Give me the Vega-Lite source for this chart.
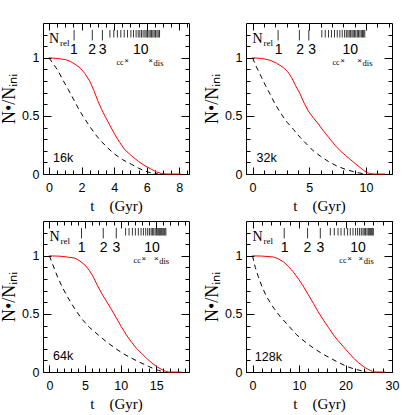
{
"$schema": "https://vega.github.io/schema/vega-lite/v6.json",
"padding": {"left": 0, "top": 22, "right": 4, "bottom": 4},
"background": "white",
"config": {
 "view": {"stroke": "black", "strokeWidth": 1},
 "axis": {"grid": false, "domain": false, "tickColor": "black", "tickWidth": 1, "labelColor": "black", "labelFont": "Liberation Sans", "labelFontSize": 12.5, "labelFlush": false, "labelOverlap": false, "titleFont": "Liberation Serif", "titleFontWeight": "normal", "titleColor": "black"},
 "text": {"color": "black"}
},
"datasets": {
 "curves": [
  {"p":"16k","s":"sim","t":0,"n":1},{"p":"16k","s":"sim","t":0.5,"n":0.995},{"p":"16k","s":"sim","t":1.0,"n":0.985},{"p":"16k","s":"sim","t":1.3,"n":0.97},{"p":"16k","s":"sim","t":1.6,"n":0.945},{"p":"16k","s":"sim","t":1.9,"n":0.915},{"p":"16k","s":"sim","t":2.2,"n":0.865},{"p":"16k","s":"sim","t":2.5,"n":0.8},{"p":"16k","s":"sim","t":2.75,"n":0.72},{"p":"16k","s":"sim","t":3.0,"n":0.63},{"p":"16k","s":"sim","t":3.2,"n":0.565},{"p":"16k","s":"sim","t":3.43,"n":0.5},{"p":"16k","s":"sim","t":3.7,"n":0.43},{"p":"16k","s":"sim","t":4.04,"n":0.34},{"p":"16k","s":"sim","t":4.35,"n":0.27},{"p":"16k","s":"sim","t":4.65,"n":0.21},{"p":"16k","s":"sim","t":5.0,"n":0.165},{"p":"16k","s":"sim","t":5.48,"n":0.11},{"p":"16k","s":"sim","t":5.9,"n":0.07},{"p":"16k","s":"sim","t":6.3,"n":0.04},{"p":"16k","s":"sim","t":6.6,"n":0.018},{"p":"16k","s":"sim","t":6.9,"n":0.005},{"p":"16k","s":"sim","t":7.2,"n":0},{"p":"16k","s":"sim","t":8.1,"n":0},
  {"p":"16k","s":"model","t":0,"n":1},{"p":"16k","s":"model","t":0.25,"n":0.95},{"p":"16k","s":"model","t":0.55,"n":0.89},{"p":"16k","s":"model","t":0.85,"n":0.81},{"p":"16k","s":"model","t":1.17,"n":0.73},{"p":"16k","s":"model","t":1.5,"n":0.645},{"p":"16k","s":"model","t":1.78,"n":0.57},{"p":"16k","s":"model","t":2.1,"n":0.495},{"p":"16k","s":"model","t":2.5,"n":0.41},{"p":"16k","s":"model","t":2.85,"n":0.34},{"p":"16k","s":"model","t":3.22,"n":0.28},{"p":"16k","s":"model","t":3.6,"n":0.225},{"p":"16k","s":"model","t":4.04,"n":0.17},{"p":"16k","s":"model","t":4.5,"n":0.125},{"p":"16k","s":"model","t":5.07,"n":0.083},{"p":"16k","s":"model","t":5.5,"n":0.05},{"p":"16k","s":"model","t":5.89,"n":0.026},{"p":"16k","s":"model","t":6.2,"n":0.012},{"p":"16k","s":"model","t":6.5,"n":0.004},{"p":"16k","s":"model","t":6.7,"n":0},
  {"p":"32k","s":"sim","t":0,"n":1},{"p":"32k","s":"sim","t":0.8,"n":0.995},{"p":"32k","s":"sim","t":1.53,"n":0.98},{"p":"32k","s":"sim","t":2.1,"n":0.955},{"p":"32k","s":"sim","t":2.71,"n":0.917},{"p":"32k","s":"sim","t":3.1,"n":0.88},{"p":"32k","s":"sim","t":3.45,"n":0.83},{"p":"32k","s":"sim","t":3.8,"n":0.76},{"p":"32k","s":"sim","t":4.19,"n":0.69},{"p":"32k","s":"sim","t":4.55,"n":0.61},{"p":"32k","s":"sim","t":4.93,"n":0.54},{"p":"32k","s":"sim","t":5.35,"n":0.485},{"p":"32k","s":"sim","t":5.81,"n":0.43},{"p":"32k","s":"sim","t":6.3,"n":0.365},{"p":"32k","s":"sim","t":6.84,"n":0.3},{"p":"32k","s":"sim","t":7.3,"n":0.245},{"p":"32k","s":"sim","t":7.73,"n":0.2},{"p":"32k","s":"sim","t":8.2,"n":0.16},{"p":"32k","s":"sim","t":8.61,"n":0.126},{"p":"32k","s":"sim","t":9.05,"n":0.09},{"p":"32k","s":"sim","t":9.5,"n":0.055},{"p":"32k","s":"sim","t":9.8,"n":0.03},{"p":"32k","s":"sim","t":10.1,"n":0.012},{"p":"32k","s":"sim","t":10.4,"n":0.003},{"p":"32k","s":"sim","t":10.7,"n":0},{"p":"32k","s":"sim","t":11.7,"n":0},
  {"p":"32k","s":"model","t":0,"n":1},{"p":"32k","s":"model","t":0.3,"n":0.93},{"p":"32k","s":"model","t":0.8,"n":0.83},{"p":"32k","s":"model","t":1.15,"n":0.76},{"p":"32k","s":"model","t":1.53,"n":0.69},{"p":"32k","s":"model","t":2.0,"n":0.6},{"p":"32k","s":"model","t":2.57,"n":0.51},{"p":"32k","s":"model","t":3.05,"n":0.445},{"p":"32k","s":"model","t":3.6,"n":0.385},{"p":"32k","s":"model","t":4.2,"n":0.315},{"p":"32k","s":"model","t":4.78,"n":0.256},{"p":"32k","s":"model","t":5.35,"n":0.2},{"p":"32k","s":"model","t":5.96,"n":0.155},{"p":"32k","s":"model","t":6.7,"n":0.107},{"p":"32k","s":"model","t":7.43,"n":0.069},{"p":"32k","s":"model","t":8.2,"n":0.04},{"p":"32k","s":"model","t":8.9,"n":0.02},{"p":"32k","s":"model","t":9.4,"n":0.009},{"p":"32k","s":"model","t":9.8,"n":0.003},{"p":"32k","s":"model","t":10.1,"n":0},
  {"p":"64k","s":"sim","t":0,"n":1},{"p":"64k","s":"sim","t":1.5,"n":0.997},{"p":"64k","s":"sim","t":2.5,"n":0.99},{"p":"64k","s":"sim","t":3.6,"n":0.98},{"p":"64k","s":"sim","t":4.3,"n":0.955},{"p":"64k","s":"sim","t":5.0,"n":0.92},{"p":"64k","s":"sim","t":5.6,"n":0.875},{"p":"64k","s":"sim","t":6.15,"n":0.82},{"p":"64k","s":"sim","t":6.7,"n":0.75},{"p":"64k","s":"sim","t":7.3,"n":0.68},{"p":"64k","s":"sim","t":8.0,"n":0.61},{"p":"64k","s":"sim","t":8.7,"n":0.54},{"p":"64k","s":"sim","t":9.4,"n":0.465},{"p":"64k","s":"sim","t":10.1,"n":0.39},{"p":"64k","s":"sim","t":10.8,"n":0.32},{"p":"64k","s":"sim","t":11.5,"n":0.26},{"p":"64k","s":"sim","t":12.2,"n":0.205},{"p":"64k","s":"sim","t":12.9,"n":0.163},{"p":"64k","s":"sim","t":13.6,"n":0.12},{"p":"64k","s":"sim","t":14.4,"n":0.077},{"p":"64k","s":"sim","t":15.1,"n":0.045},{"p":"64k","s":"sim","t":15.8,"n":0.02},{"p":"64k","s":"sim","t":16.3,"n":0.006},{"p":"64k","s":"sim","t":16.7,"n":0},{"p":"64k","s":"sim","t":18.5,"n":0},
  {"p":"64k","s":"model","t":0,"n":1},{"p":"64k","s":"model","t":0.5,"n":0.92},{"p":"64k","s":"model","t":1.2,"n":0.81},{"p":"64k","s":"model","t":1.9,"n":0.72},{"p":"64k","s":"model","t":2.6,"n":0.64},{"p":"64k","s":"model","t":3.5,"n":0.55},{"p":"64k","s":"model","t":4.5,"n":0.46},{"p":"64k","s":"model","t":5.6,"n":0.385},{"p":"64k","s":"model","t":6.85,"n":0.32},{"p":"64k","s":"model","t":8.0,"n":0.26},{"p":"64k","s":"model","t":9.2,"n":0.206},{"p":"64k","s":"model","t":10.3,"n":0.16},{"p":"64k","s":"model","t":11.5,"n":0.12},{"p":"64k","s":"model","t":12.7,"n":0.083},{"p":"64k","s":"model","t":13.9,"n":0.049},{"p":"64k","s":"model","t":14.6,"n":0.03},{"p":"64k","s":"model","t":15.3,"n":0.014},{"p":"64k","s":"model","t":15.8,"n":0.005},{"p":"64k","s":"model","t":16.2,"n":0},
  {"p":"128k","s":"sim","t":0,"n":1},{"p":"128k","s":"sim","t":2,"n":0.998},{"p":"128k","s":"sim","t":4.5,"n":0.99},{"p":"128k","s":"sim","t":5.5,"n":0.975},{"p":"128k","s":"sim","t":6.6,"n":0.95},{"p":"128k","s":"sim","t":7.7,"n":0.91},{"p":"128k","s":"sim","t":8.8,"n":0.86},{"p":"128k","s":"sim","t":9.9,"n":0.8},{"p":"128k","s":"sim","t":10.9,"n":0.74},{"p":"128k","s":"sim","t":12.0,"n":0.665},{"p":"128k","s":"sim","t":13.1,"n":0.59},{"p":"128k","s":"sim","t":14.1,"n":0.52},{"p":"128k","s":"sim","t":15.2,"n":0.45},{"p":"128k","s":"sim","t":16.3,"n":0.385},{"p":"128k","s":"sim","t":17.4,"n":0.32},{"p":"128k","s":"sim","t":18.4,"n":0.27},{"p":"128k","s":"sim","t":19.5,"n":0.22},{"p":"128k","s":"sim","t":20.6,"n":0.17},{"p":"128k","s":"sim","t":21.7,"n":0.12},{"p":"128k","s":"sim","t":22.8,"n":0.08},{"p":"128k","s":"sim","t":23.8,"n":0.049},{"p":"128k","s":"sim","t":24.6,"n":0.028},{"p":"128k","s":"sim","t":25.3,"n":0.014},{"p":"128k","s":"sim","t":25.8,"n":0.005},{"p":"128k","s":"sim","t":26.3,"n":0},{"p":"128k","s":"sim","t":28.5,"n":0},
  {"p":"128k","s":"model","t":0,"n":1},{"p":"128k","s":"model","t":0.6,"n":0.9},{"p":"128k","s":"model","t":1.25,"n":0.82},{"p":"128k","s":"model","t":2.1,"n":0.73},{"p":"128k","s":"model","t":3.0,"n":0.65},{"p":"128k","s":"model","t":4.4,"n":0.56},{"p":"128k","s":"model","t":5.9,"n":0.48},{"p":"128k","s":"model","t":7.7,"n":0.4},{"p":"128k","s":"model","t":9.5,"n":0.32},{"p":"128k","s":"model","t":11.3,"n":0.26},{"p":"128k","s":"model","t":13.1,"n":0.206},{"p":"128k","s":"model","t":14.9,"n":0.16},{"p":"128k","s":"model","t":16.7,"n":0.12},{"p":"128k","s":"model","t":18.5,"n":0.082},{"p":"128k","s":"model","t":20.2,"n":0.049},{"p":"128k","s":"model","t":21.7,"n":0.028},{"p":"128k","s":"model","t":23.1,"n":0.014},{"p":"128k","s":"model","t":24.0,"n":0.005},{"p":"128k","s":"model","t":24.5,"n":0}
 ],
 "nrel": [
  {"p":"16k","n":1,"t":1.54},{"p":"16k","n":2,"t":2.66},{"p":"16k","n":3,"t":3.28},{"p":"16k","n":4,"t":3.74},{"p":"16k","n":5,"t":3.98},{"p":"16k","n":6,"t":4.2},{"p":"16k","n":7,"t":4.41},{"p":"16k","n":8,"t":4.62},{"p":"16k","n":9,"t":4.82},{"p":"16k","n":10,"t":5.03},{"p":"16k","n":11,"t":5.19},{"p":"16k","n":12,"t":5.35},{"p":"16k","n":13,"t":5.48},{"p":"16k","n":14,"t":5.58},{"p":"16k","n":15,"t":5.68},{"p":"16k","n":16,"t":5.78},{"p":"16k","n":17,"t":5.89},{"p":"16k","n":18,"t":5.97},{"p":"16k","n":19,"t":6.05},{"p":"16k","n":20,"t":6.14},{"p":"16k","n":21,"t":6.22},{"p":"16k","n":22,"t":6.3},{"p":"16k","n":23,"t":6.38},{"p":"16k","n":24,"t":6.46},{"p":"16k","n":25,"t":6.54},{"p":"16k","n":26,"t":6.63},{"p":"16k","n":27,"t":6.71},{"p":"16k","n":28,"t":6.79},
  {"p":"32k","n":1,"t":2.25},{"p":"32k","n":2,"t":4.13},{"p":"32k","n":3,"t":4.96},{"p":"32k","n":4,"t":6.11},{"p":"32k","n":5,"t":6.41},{"p":"32k","n":6,"t":6.7},{"p":"32k","n":7,"t":6.96},{"p":"32k","n":8,"t":7.23},{"p":"32k","n":9,"t":7.47},{"p":"32k","n":10,"t":7.7},{"p":"32k","n":11,"t":7.91},{"p":"32k","n":12,"t":8.12},{"p":"32k","n":13,"t":8.27},{"p":"32k","n":14,"t":8.41},{"p":"32k","n":15,"t":8.53},{"p":"32k","n":16,"t":8.65},{"p":"32k","n":17,"t":8.77},{"p":"32k","n":18,"t":8.88},{"p":"32k","n":19,"t":9.0},{"p":"32k","n":20,"t":9.11},{"p":"32k","n":21,"t":9.24},{"p":"32k","n":22,"t":9.35},{"p":"32k","n":23,"t":9.47},{"p":"32k","n":24,"t":9.59},{"p":"32k","n":25,"t":9.7},{"p":"32k","n":26,"t":9.8},{"p":"32k","n":27,"t":9.9},
  {"p":"64k","n":1,"t":4.51},{"p":"64k","n":2,"t":7.56},{"p":"64k","n":3,"t":9.39},{"p":"64k","n":4,"t":10.7},{"p":"64k","n":5,"t":11.18},{"p":"64k","n":6,"t":11.65},{"p":"64k","n":7,"t":12.07},{"p":"64k","n":8,"t":12.49},{"p":"64k","n":9,"t":12.87},{"p":"64k","n":10,"t":13.2},{"p":"64k","n":11,"t":13.52},{"p":"64k","n":12,"t":13.8},{"p":"64k","n":13,"t":14.04},{"p":"64k","n":14,"t":14.28},{"p":"64k","n":15,"t":14.46},{"p":"64k","n":16,"t":14.65},{"p":"64k","n":17,"t":14.85},{"p":"64k","n":18,"t":15.03},{"p":"64k","n":19,"t":15.21},{"p":"64k","n":20,"t":15.35},{"p":"64k","n":21,"t":15.49},{"p":"64k","n":22,"t":15.63},{"p":"64k","n":23,"t":15.77},{"p":"64k","n":24,"t":15.92},{"p":"64k","n":25,"t":16.06},{"p":"64k","n":26,"t":16.2},{"p":"64k","n":27,"t":16.35},
  {"p":"128k","n":1,"t":6.82},{"p":"128k","n":2,"t":11.85},{"p":"128k","n":3,"t":14.58},{"p":"128k","n":4,"t":16.73},{"p":"128k","n":5,"t":17.59},{"p":"128k","n":6,"t":18.39},{"p":"128k","n":7,"t":19.03},{"p":"128k","n":8,"t":19.74},{"p":"128k","n":9,"t":20.45},{"p":"128k","n":10,"t":21.03},{"p":"128k","n":11,"t":21.61},{"p":"128k","n":12,"t":22.17},{"p":"128k","n":13,"t":22.6},{"p":"128k","n":14,"t":23.03},{"p":"128k","n":15,"t":23.4},{"p":"128k","n":16,"t":23.76},{"p":"128k","n":17,"t":24.04},{"p":"128k","n":18,"t":24.32},{"p":"128k","n":19,"t":24.62},{"p":"128k","n":20,"t":24.9},{"p":"128k","n":21,"t":25.12},{"p":"128k","n":22,"t":25.33},{"p":"128k","n":23,"t":25.55},{"p":"128k","n":24,"t":25.76},{"p":"128k","n":25,"t":25.98}
 ],
 "nlab": [
  {"p":"16k","lab":"1","t":1.53},{"p":"16k","lab":"2","t":2.65},{"p":"16k","lab":"3","t":3.3},{"p":"16k","lab":"10","t":5.63},
  {"p":"32k","lab":"1","t":2.3},{"p":"32k","lab":"2","t":4.2},{"p":"32k","lab":"3","t":5.25},{"p":"32k","lab":"10","t":8.62},
  {"p":"64k","lab":"1","t":4.51},{"p":"64k","lab":"2","t":7.6},{"p":"64k","lab":"3","t":9.4},{"p":"64k","lab":"10","t":14.4},
  {"p":"128k","lab":"1","t":6.9},{"p":"128k","lab":"2","t":11.8},{"p":"128k","lab":"3","t":14.6},{"p":"128k","lab":"10","t":22.7}
 ],
 "events": [
  {"p":"16k","e":"cc","t":4.76},{"p":"16k","e":"dis","t":6.24},
  {"p":"32k","e":"cc","t":7.94},{"p":"32k","e":"dis","t":9.44},
  {"p":"64k","e":"cc","t":13.24},{"p":"64k","e":"dis","t":15.0},
  {"p":"128k","e":"cc","t":20.85},{"p":"128k","e":"dis","t":23.3}
 ],
 "panels": [{"p":"16k"},{"p":"32k"},{"p":"64k"},{"p":"128k"}]
},
"columns": 2,
"spacing": {"row": 47, "column": 57},
"bounds": "flush",
"resolve": {"scale": {"x": "independent", "y": "independent"}},
"concat": [
 {"width": 146, "height": 151, "resolve": {"axis": {"x": "independent", "y": "independent"}},
  "layer": [
   {"data": {"name": "curves"}, "transform": [{"filter": "datum.p == '16k' && datum.s == 'sim'"}], "mark": {"type": "line", "color": "#ff0000", "strokeWidth": 1},
    "encoding": {"x": {"field": "t", "type": "quantitative", "scale": {"domain": [-0.37, 8.6], "nice": false, "zero": false}, "axis": {"orient": "bottom", "values": [0,2,4,6,8], "tickSize": -7, "format": "d", "labelPadding": 14, "title": "t\u00a0\u00a0\u00a0\u00a0(Gyr)", "titleFontSize": 15, "titlePadding": 5}},
     "y": {"field": "n", "type": "quantitative", "scale": {"domain": [0, 1.3], "nice": false, "zero": false}, "axis": {"orient": "left", "values": [0,0.5,1], "tickSize": -8, "format": "~g", "labelPadding": 12, "title": "N•/Nᵢₙᵢ", "titleFontSize": 18, "titlePadding": 3}}}},
   {"data": {"name": "curves"}, "transform": [{"filter": "datum.p == '16k' && datum.s == 'model'"}], "mark": {"type": "line", "color": "black", "strokeWidth": 1, "strokeDash": [5, 4]},
    "encoding": {"x": {"field": "t", "type": "quantitative", "scale": {"domain": [-0.37, 8.6], "nice": false, "zero": false}, "axis": {"orient": "bottom", "values": [0,0.5,1,1.5,2,2.5,3,3.5,4,4.5,5,5.5,6,6.5,7,7.5,8,8.5], "tickSize": -4, "labels": false, "title": null}},
     "y": {"field": "n", "type": "quantitative", "scale": {"domain": [0, 1.3], "nice": false, "zero": false}, "axis": {"orient": "left", "values": [0,0.1,0.2,0.3,0.4,0.5,0.6,0.7,0.8,0.9,1,1.1,1.2], "tickSize": -4, "labels": false, "title": null}}}},
   {"data": {"name": "nrel"}, "transform": [{"filter": "datum.p == '16k' && datum.n > 3"}], "mark": {"type": "rule", "color": "black", "strokeWidth": 0.8},
    "encoding": {"x": {"field": "t", "type": "quantitative", "scale": {"domain": [-0.37, 8.6], "nice": false, "zero": false}, "axis": {"orient": "top", "values": [0,2,4,6,8], "tickSize": -7, "labels": false, "title": null}},
     "y": {"datum": 1.24, "type": "quantitative", "scale": {"domain": [0, 1.3], "nice": false, "zero": false}, "axis": {"orient": "right", "values": [0,0.5,1], "tickSize": -8, "labels": false, "title": null}}, "y2": {"datum": 1.175}}},
   {"data": {"name": "nrel"}, "transform": [{"filter": "datum.p == '16k' && datum.n <= 3"}], "mark": {"type": "rule", "color": "black", "strokeWidth": 0.8},
    "encoding": {"x": {"field": "t", "type": "quantitative", "scale": {"domain": [-0.37, 8.6], "nice": false, "zero": false}, "axis": {"orient": "top", "values": [0,0.5,1,1.5,2,2.5,3,3.5,4,4.5,5,5.5,6,6.5,7,7.5,8,8.5], "tickSize": -4, "labels": false, "title": null}},
     "y": {"datum": 1.24, "type": "quantitative", "scale": {"domain": [0, 1.3], "nice": false, "zero": false}, "axis": {"orient": "right", "values": [0,0.1,0.2,0.3,0.4,0.5,0.6,0.7,0.8,0.9,1,1.1,1.2], "tickSize": -4, "labels": false, "title": null}}, "y2": {"datum": 1.15}}},
   {"data": {"name": "nlab"}, "transform": [{"filter": "datum.p == '16k'"}], "mark": {"type": "text", "font": "Liberation Sans", "fontSize": 14, "align": "center", "baseline": "alphabetic"},
    "encoding": {"x": {"field": "t", "type": "quantitative", "scale": {"domain": [-0.37, 8.6], "nice": false, "zero": false}, "axis": null}, "y": {"datum": 1.035, "type": "quantitative", "scale": {"domain": [0, 1.3], "nice": false, "zero": false}, "axis": null}, "text": {"field": "lab"}}},
   {"data": {"name": "events"}, "transform": [{"filter": "datum.p == '16k'"}], "mark": {"type": "text", "text": "×", "font": "Liberation Sans", "fontSize": 8, "align": "center", "baseline": "middle"},
    "encoding": {"x": {"field": "t", "type": "quantitative", "scale": {"domain": [-0.37, 8.6], "nice": false, "zero": false}, "axis": null}, "y": {"datum": 0.97, "type": "quantitative", "scale": {"domain": [0, 1.3], "nice": false, "zero": false}, "axis": null}}},
   {"data": {"name": "events"}, "transform": [{"filter": "datum.p == '16k' && datum.e == 'cc'"}], "mark": {"type": "text", "text": "cc", "font": "Liberation Serif", "fontSize": 8, "align": "right", "baseline": "alphabetic", "dx": -3, "dy": 4},
    "encoding": {"x": {"field": "t", "type": "quantitative", "scale": {"domain": [-0.37, 8.6], "nice": false, "zero": false}, "axis": null}, "y": {"datum": 0.97, "type": "quantitative", "scale": {"domain": [0, 1.3], "nice": false, "zero": false}, "axis": null}}},
   {"data": {"name": "events"}, "transform": [{"filter": "datum.p == '16k' && datum.e == 'dis'"}], "mark": {"type": "text", "text": "dis", "font": "Liberation Serif", "fontSize": 8.5, "align": "left", "baseline": "alphabetic", "dx": 3, "dy": 5},
    "encoding": {"x": {"field": "t", "type": "quantitative", "scale": {"domain": [-0.37, 8.6], "nice": false, "zero": false}, "axis": null}, "y": {"datum": 0.97, "type": "quantitative", "scale": {"domain": [0, 1.3], "nice": false, "zero": false}, "axis": null}}},
   {"data": {"name": "panels"}, "transform": [{"filter": "datum.p == '16k'"}], "mark": {"type": "text", "font": "Liberation Sans", "fontSize": 12.5, "align": "left", "baseline": "alphabetic"},
    "encoding": {"x": {"datum": 0.25, "type": "quantitative", "scale": {"domain": [-0.37, 8.6], "nice": false, "zero": false}, "axis": null}, "y": {"datum": 0.1, "type": "quantitative", "scale": {"domain": [0, 1.3], "nice": false, "zero": false}, "axis": null}, "text": {"field": "p"}}},
   {"data": {"name": "panels"}, "transform": [{"filter": "datum.p == '16k'"}], "mark": {"type": "text", "text": "N", "font": "Liberation Serif", "fontSize": 14, "align": "left", "baseline": "alphabetic"},
    "encoding": {"x": {"datum": 0, "type": "quantitative", "scale": {"domain": [-0.37, 8.6], "nice": false, "zero": false}, "axis": null}, "y": {"datum": 1.125, "type": "quantitative", "scale": {"domain": [0, 1.3], "nice": false, "zero": false}, "axis": null}}},
   {"data": {"name": "panels"}, "transform": [{"filter": "datum.p == '16k'"}], "mark": {"type": "text", "text": "rel", "font": "Liberation Serif", "fontSize": 9, "align": "left", "baseline": "alphabetic", "dx": 11},
    "encoding": {"x": {"datum": 0, "type": "quantitative", "scale": {"domain": [-0.37, 8.6], "nice": false, "zero": false}, "axis": null}, "y": {"datum": 1.103, "type": "quantitative", "scale": {"domain": [0, 1.3], "nice": false, "zero": false}, "axis": null}}}
  ]},
 {"width": 146, "height": 151, "resolve": {"axis": {"x": "independent", "y": "independent"}},
  "layer": [
   {"data": {"name": "curves"}, "transform": [{"filter": "datum.p == '32k' && datum.s == 'sim'"}], "mark": {"type": "line", "color": "#ff0000", "strokeWidth": 1},
    "encoding": {"x": {"field": "t", "type": "quantitative", "scale": {"domain": [-0.58, 12.3], "nice": false, "zero": false}, "axis": {"orient": "bottom", "values": [0,5,10], "tickSize": -7, "format": "d", "labelPadding": 14, "title": "t\u00a0\u00a0\u00a0\u00a0(Gyr)", "titleFontSize": 15, "titlePadding": 5}},
     "y": {"field": "n", "type": "quantitative", "scale": {"domain": [0, 1.3], "nice": false, "zero": false}, "axis": {"orient": "left", "values": [0,0.5,1], "tickSize": -8, "format": "~g", "labelPadding": 12, "title": "N•/Nᵢₙᵢ", "titleFontSize": 18, "titlePadding": 3}}}},
   {"data": {"name": "curves"}, "transform": [{"filter": "datum.p == '32k' && datum.s == 'model'"}], "mark": {"type": "line", "color": "black", "strokeWidth": 1, "strokeDash": [5, 4]},
    "encoding": {"x": {"field": "t", "type": "quantitative", "scale": {"domain": [-0.58, 12.3], "nice": false, "zero": false}, "axis": {"orient": "bottom", "values": [0,1,2,3,4,5,6,7,8,9,10,11,12], "tickSize": -4, "labels": false, "title": null}},
     "y": {"field": "n", "type": "quantitative", "scale": {"domain": [0, 1.3], "nice": false, "zero": false}, "axis": {"orient": "left", "values": [0,0.1,0.2,0.3,0.4,0.5,0.6,0.7,0.8,0.9,1,1.1,1.2], "tickSize": -4, "labels": false, "title": null}}}},
   {"data": {"name": "nrel"}, "transform": [{"filter": "datum.p == '32k' && datum.n > 3"}], "mark": {"type": "rule", "color": "black", "strokeWidth": 0.8},
    "encoding": {"x": {"field": "t", "type": "quantitative", "scale": {"domain": [-0.58, 12.3], "nice": false, "zero": false}, "axis": {"orient": "top", "values": [0,5,10], "tickSize": -7, "labels": false, "title": null}},
     "y": {"datum": 1.24, "type": "quantitative", "scale": {"domain": [0, 1.3], "nice": false, "zero": false}, "axis": {"orient": "right", "values": [0,0.5,1], "tickSize": -8, "labels": false, "title": null}}, "y2": {"datum": 1.175}}},
   {"data": {"name": "nrel"}, "transform": [{"filter": "datum.p == '32k' && datum.n <= 3"}], "mark": {"type": "rule", "color": "black", "strokeWidth": 0.8},
    "encoding": {"x": {"field": "t", "type": "quantitative", "scale": {"domain": [-0.58, 12.3], "nice": false, "zero": false}, "axis": {"orient": "top", "values": [0,1,2,3,4,5,6,7,8,9,10,11,12], "tickSize": -4, "labels": false, "title": null}},
     "y": {"datum": 1.24, "type": "quantitative", "scale": {"domain": [0, 1.3], "nice": false, "zero": false}, "axis": {"orient": "right", "values": [0,0.1,0.2,0.3,0.4,0.5,0.6,0.7,0.8,0.9,1,1.1,1.2], "tickSize": -4, "labels": false, "title": null}}, "y2": {"datum": 1.15}}},
   {"data": {"name": "nlab"}, "transform": [{"filter": "datum.p == '32k'"}], "mark": {"type": "text", "font": "Liberation Sans", "fontSize": 14, "align": "center", "baseline": "alphabetic"},
    "encoding": {"x": {"field": "t", "type": "quantitative", "scale": {"domain": [-0.58, 12.3], "nice": false, "zero": false}, "axis": null}, "y": {"datum": 1.035, "type": "quantitative", "scale": {"domain": [0, 1.3], "nice": false, "zero": false}, "axis": null}, "text": {"field": "lab"}}},
   {"data": {"name": "events"}, "transform": [{"filter": "datum.p == '32k'"}], "mark": {"type": "text", "text": "×", "font": "Liberation Sans", "fontSize": 8, "align": "center", "baseline": "middle"},
    "encoding": {"x": {"field": "t", "type": "quantitative", "scale": {"domain": [-0.58, 12.3], "nice": false, "zero": false}, "axis": null}, "y": {"datum": 0.97, "type": "quantitative", "scale": {"domain": [0, 1.3], "nice": false, "zero": false}, "axis": null}}},
   {"data": {"name": "events"}, "transform": [{"filter": "datum.p == '32k' && datum.e == 'cc'"}], "mark": {"type": "text", "text": "cc", "font": "Liberation Serif", "fontSize": 8, "align": "right", "baseline": "alphabetic", "dx": -3, "dy": 4},
    "encoding": {"x": {"field": "t", "type": "quantitative", "scale": {"domain": [-0.58, 12.3], "nice": false, "zero": false}, "axis": null}, "y": {"datum": 0.97, "type": "quantitative", "scale": {"domain": [0, 1.3], "nice": false, "zero": false}, "axis": null}}},
   {"data": {"name": "events"}, "transform": [{"filter": "datum.p == '32k' && datum.e == 'dis'"}], "mark": {"type": "text", "text": "dis", "font": "Liberation Serif", "fontSize": 8.5, "align": "left", "baseline": "alphabetic", "dx": 3, "dy": 5},
    "encoding": {"x": {"field": "t", "type": "quantitative", "scale": {"domain": [-0.58, 12.3], "nice": false, "zero": false}, "axis": null}, "y": {"datum": 0.97, "type": "quantitative", "scale": {"domain": [0, 1.3], "nice": false, "zero": false}, "axis": null}}},
   {"data": {"name": "panels"}, "transform": [{"filter": "datum.p == '32k'"}], "mark": {"type": "text", "font": "Liberation Sans", "fontSize": 12.5, "align": "left", "baseline": "alphabetic"},
    "encoding": {"x": {"datum": 0.35, "type": "quantitative", "scale": {"domain": [-0.58, 12.3], "nice": false, "zero": false}, "axis": null}, "y": {"datum": 0.1, "type": "quantitative", "scale": {"domain": [0, 1.3], "nice": false, "zero": false}, "axis": null}, "text": {"field": "p"}}},
   {"data": {"name": "panels"}, "transform": [{"filter": "datum.p == '32k'"}], "mark": {"type": "text", "text": "N", "font": "Liberation Serif", "fontSize": 14, "align": "left", "baseline": "alphabetic"},
    "encoding": {"x": {"datum": 0, "type": "quantitative", "scale": {"domain": [-0.58, 12.3], "nice": false, "zero": false}, "axis": null}, "y": {"datum": 1.125, "type": "quantitative", "scale": {"domain": [0, 1.3], "nice": false, "zero": false}, "axis": null}}},
   {"data": {"name": "panels"}, "transform": [{"filter": "datum.p == '32k'"}], "mark": {"type": "text", "text": "rel", "font": "Liberation Serif", "fontSize": 9, "align": "left", "baseline": "alphabetic", "dx": 11},
    "encoding": {"x": {"datum": 0, "type": "quantitative", "scale": {"domain": [-0.58, 12.3], "nice": false, "zero": false}, "axis": null}, "y": {"datum": 1.103, "type": "quantitative", "scale": {"domain": [0, 1.3], "nice": false, "zero": false}, "axis": null}}}
  ]},
 {"width": 146, "height": 151, "resolve": {"axis": {"x": "independent", "y": "independent"}},
  "layer": [
   {"data": {"name": "curves"}, "transform": [{"filter": "datum.p == '64k' && datum.s == 'sim'"}], "mark": {"type": "line", "color": "#ff0000", "strokeWidth": 1},
    "encoding": {"x": {"field": "t", "type": "quantitative", "scale": {"domain": [-0.9, 19.6], "nice": false, "zero": false}, "axis": {"orient": "bottom", "values": [0,5,10,15], "tickSize": -7, "format": "d", "labelPadding": 14, "title": "t\u00a0\u00a0\u00a0\u00a0(Gyr)", "titleFontSize": 15, "titlePadding": 5}},
     "y": {"field": "n", "type": "quantitative", "scale": {"domain": [0, 1.3], "nice": false, "zero": false}, "axis": {"orient": "left", "values": [0,0.5,1], "tickSize": -8, "format": "~g", "labelPadding": 12, "title": "N•/Nᵢₙᵢ", "titleFontSize": 18, "titlePadding": 3}}}},
   {"data": {"name": "curves"}, "transform": [{"filter": "datum.p == '64k' && datum.s == 'model'"}], "mark": {"type": "line", "color": "black", "strokeWidth": 1, "strokeDash": [5, 4]},
    "encoding": {"x": {"field": "t", "type": "quantitative", "scale": {"domain": [-0.9, 19.6], "nice": false, "zero": false}, "axis": {"orient": "bottom", "values": [0,1,2,3,4,5,6,7,8,9,10,11,12,13,14,15,16,17,18,19], "tickSize": -4, "labels": false, "title": null}},
     "y": {"field": "n", "type": "quantitative", "scale": {"domain": [0, 1.3], "nice": false, "zero": false}, "axis": {"orient": "left", "values": [0,0.1,0.2,0.3,0.4,0.5,0.6,0.7,0.8,0.9,1,1.1,1.2], "tickSize": -4, "labels": false, "title": null}}}},
   {"data": {"name": "nrel"}, "transform": [{"filter": "datum.p == '64k' && datum.n > 3"}], "mark": {"type": "rule", "color": "black", "strokeWidth": 0.8},
    "encoding": {"x": {"field": "t", "type": "quantitative", "scale": {"domain": [-0.9, 19.6], "nice": false, "zero": false}, "axis": {"orient": "top", "values": [0,5,10,15], "tickSize": -7, "labels": false, "title": null}},
     "y": {"datum": 1.24, "type": "quantitative", "scale": {"domain": [0, 1.3], "nice": false, "zero": false}, "axis": {"orient": "right", "values": [0,0.5,1], "tickSize": -8, "labels": false, "title": null}}, "y2": {"datum": 1.175}}},
   {"data": {"name": "nrel"}, "transform": [{"filter": "datum.p == '64k' && datum.n <= 3"}], "mark": {"type": "rule", "color": "black", "strokeWidth": 0.8},
    "encoding": {"x": {"field": "t", "type": "quantitative", "scale": {"domain": [-0.9, 19.6], "nice": false, "zero": false}, "axis": {"orient": "top", "values": [0,1,2,3,4,5,6,7,8,9,10,11,12,13,14,15,16,17,18,19], "tickSize": -4, "labels": false, "title": null}},
     "y": {"datum": 1.24, "type": "quantitative", "scale": {"domain": [0, 1.3], "nice": false, "zero": false}, "axis": {"orient": "right", "values": [0,0.1,0.2,0.3,0.4,0.5,0.6,0.7,0.8,0.9,1,1.1,1.2], "tickSize": -4, "labels": false, "title": null}}, "y2": {"datum": 1.15}}},
   {"data": {"name": "nlab"}, "transform": [{"filter": "datum.p == '64k'"}], "mark": {"type": "text", "font": "Liberation Sans", "fontSize": 14, "align": "center", "baseline": "alphabetic"},
    "encoding": {"x": {"field": "t", "type": "quantitative", "scale": {"domain": [-0.9, 19.6], "nice": false, "zero": false}, "axis": null}, "y": {"datum": 1.035, "type": "quantitative", "scale": {"domain": [0, 1.3], "nice": false, "zero": false}, "axis": null}, "text": {"field": "lab"}}},
   {"data": {"name": "events"}, "transform": [{"filter": "datum.p == '64k'"}], "mark": {"type": "text", "text": "×", "font": "Liberation Sans", "fontSize": 8, "align": "center", "baseline": "middle"},
    "encoding": {"x": {"field": "t", "type": "quantitative", "scale": {"domain": [-0.9, 19.6], "nice": false, "zero": false}, "axis": null}, "y": {"datum": 0.97, "type": "quantitative", "scale": {"domain": [0, 1.3], "nice": false, "zero": false}, "axis": null}}},
   {"data": {"name": "events"}, "transform": [{"filter": "datum.p == '64k' && datum.e == 'cc'"}], "mark": {"type": "text", "text": "cc", "font": "Liberation Serif", "fontSize": 8, "align": "right", "baseline": "alphabetic", "dx": -3, "dy": 4},
    "encoding": {"x": {"field": "t", "type": "quantitative", "scale": {"domain": [-0.9, 19.6], "nice": false, "zero": false}, "axis": null}, "y": {"datum": 0.97, "type": "quantitative", "scale": {"domain": [0, 1.3], "nice": false, "zero": false}, "axis": null}}},
   {"data": {"name": "events"}, "transform": [{"filter": "datum.p == '64k' && datum.e == 'dis'"}], "mark": {"type": "text", "text": "dis", "font": "Liberation Serif", "fontSize": 8.5, "align": "left", "baseline": "alphabetic", "dx": 3, "dy": 5},
    "encoding": {"x": {"field": "t", "type": "quantitative", "scale": {"domain": [-0.9, 19.6], "nice": false, "zero": false}, "axis": null}, "y": {"datum": 0.97, "type": "quantitative", "scale": {"domain": [0, 1.3], "nice": false, "zero": false}, "axis": null}}},
   {"data": {"name": "panels"}, "transform": [{"filter": "datum.p == '64k'"}], "mark": {"type": "text", "font": "Liberation Sans", "fontSize": 12.5, "align": "left", "baseline": "alphabetic"},
    "encoding": {"x": {"datum": 0.52, "type": "quantitative", "scale": {"domain": [-0.9, 19.6], "nice": false, "zero": false}, "axis": null}, "y": {"datum": 0.105, "type": "quantitative", "scale": {"domain": [0, 1.3], "nice": false, "zero": false}, "axis": null}, "text": {"field": "p"}}},
   {"data": {"name": "panels"}, "transform": [{"filter": "datum.p == '64k'"}], "mark": {"type": "text", "text": "N", "font": "Liberation Serif", "fontSize": 14, "align": "left", "baseline": "alphabetic"},
    "encoding": {"x": {"datum": 0, "type": "quantitative", "scale": {"domain": [-0.9, 19.6], "nice": false, "zero": false}, "axis": null}, "y": {"datum": 1.125, "type": "quantitative", "scale": {"domain": [0, 1.3], "nice": false, "zero": false}, "axis": null}}},
   {"data": {"name": "panels"}, "transform": [{"filter": "datum.p == '64k'"}], "mark": {"type": "text", "text": "rel", "font": "Liberation Serif", "fontSize": 9, "align": "left", "baseline": "alphabetic", "dx": 11},
    "encoding": {"x": {"datum": 0, "type": "quantitative", "scale": {"domain": [-0.9, 19.6], "nice": false, "zero": false}, "axis": null}, "y": {"datum": 1.103, "type": "quantitative", "scale": {"domain": [0, 1.3], "nice": false, "zero": false}, "axis": null}}}
  ]},
 {"width": 146, "height": 151, "resolve": {"axis": {"x": "independent", "y": "independent"}},
  "layer": [
   {"data": {"name": "curves"}, "transform": [{"filter": "datum.p == '128k' && datum.s == 'sim'"}], "mark": {"type": "line", "color": "#ff0000", "strokeWidth": 1},
    "encoding": {"x": {"field": "t", "type": "quantitative", "scale": {"domain": [-1.4, 30], "nice": false, "zero": false}, "axis": {"orient": "bottom", "values": [0,10,20,30], "tickSize": -7, "format": "d", "labelPadding": 14, "title": "t\u00a0\u00a0\u00a0\u00a0(Gyr)", "titleFontSize": 15, "titlePadding": 5}},
     "y": {"field": "n", "type": "quantitative", "scale": {"domain": [0, 1.3], "nice": false, "zero": false}, "axis": {"orient": "left", "values": [0,0.5,1], "tickSize": -8, "format": "~g", "labelPadding": 12, "title": "N•/Nᵢₙᵢ", "titleFontSize": 18, "titlePadding": 3}}}},
   {"data": {"name": "curves"}, "transform": [{"filter": "datum.p == '128k' && datum.s == 'model'"}], "mark": {"type": "line", "color": "black", "strokeWidth": 1, "strokeDash": [5, 4]},
    "encoding": {"x": {"field": "t", "type": "quantitative", "scale": {"domain": [-1.4, 30], "nice": false, "zero": false}, "axis": {"orient": "bottom", "values": [0,2,4,6,8,10,12,14,16,18,20,22,24,26,28,30], "tickSize": -4, "labels": false, "title": null}},
     "y": {"field": "n", "type": "quantitative", "scale": {"domain": [0, 1.3], "nice": false, "zero": false}, "axis": {"orient": "left", "values": [0,0.1,0.2,0.3,0.4,0.5,0.6,0.7,0.8,0.9,1,1.1,1.2], "tickSize": -4, "labels": false, "title": null}}}},
   {"data": {"name": "nrel"}, "transform": [{"filter": "datum.p == '128k' && datum.n > 3"}], "mark": {"type": "rule", "color": "black", "strokeWidth": 0.8},
    "encoding": {"x": {"field": "t", "type": "quantitative", "scale": {"domain": [-1.4, 30], "nice": false, "zero": false}, "axis": {"orient": "top", "values": [0,10,20,30], "tickSize": -7, "labels": false, "title": null}},
     "y": {"datum": 1.24, "type": "quantitative", "scale": {"domain": [0, 1.3], "nice": false, "zero": false}, "axis": {"orient": "right", "values": [0,0.5,1], "tickSize": -8, "labels": false, "title": null}}, "y2": {"datum": 1.175}}},
   {"data": {"name": "nrel"}, "transform": [{"filter": "datum.p == '128k' && datum.n <= 3"}], "mark": {"type": "rule", "color": "black", "strokeWidth": 0.8},
    "encoding": {"x": {"field": "t", "type": "quantitative", "scale": {"domain": [-1.4, 30], "nice": false, "zero": false}, "axis": {"orient": "top", "values": [0,2,4,6,8,10,12,14,16,18,20,22,24,26,28,30], "tickSize": -4, "labels": false, "title": null}},
     "y": {"datum": 1.24, "type": "quantitative", "scale": {"domain": [0, 1.3], "nice": false, "zero": false}, "axis": {"orient": "right", "values": [0,0.1,0.2,0.3,0.4,0.5,0.6,0.7,0.8,0.9,1,1.1,1.2], "tickSize": -4, "labels": false, "title": null}}, "y2": {"datum": 1.15}}},
   {"data": {"name": "nlab"}, "transform": [{"filter": "datum.p == '128k'"}], "mark": {"type": "text", "font": "Liberation Sans", "fontSize": 14, "align": "center", "baseline": "alphabetic"},
    "encoding": {"x": {"field": "t", "type": "quantitative", "scale": {"domain": [-1.4, 30], "nice": false, "zero": false}, "axis": null}, "y": {"datum": 1.035, "type": "quantitative", "scale": {"domain": [0, 1.3], "nice": false, "zero": false}, "axis": null}, "text": {"field": "lab"}}},
   {"data": {"name": "events"}, "transform": [{"filter": "datum.p == '128k'"}], "mark": {"type": "text", "text": "×", "font": "Liberation Sans", "fontSize": 8, "align": "center", "baseline": "middle"},
    "encoding": {"x": {"field": "t", "type": "quantitative", "scale": {"domain": [-1.4, 30], "nice": false, "zero": false}, "axis": null}, "y": {"datum": 0.97, "type": "quantitative", "scale": {"domain": [0, 1.3], "nice": false, "zero": false}, "axis": null}}},
   {"data": {"name": "events"}, "transform": [{"filter": "datum.p == '128k' && datum.e == 'cc'"}], "mark": {"type": "text", "text": "cc", "font": "Liberation Serif", "fontSize": 8, "align": "right", "baseline": "alphabetic", "dx": -3, "dy": 4},
    "encoding": {"x": {"field": "t", "type": "quantitative", "scale": {"domain": [-1.4, 30], "nice": false, "zero": false}, "axis": null}, "y": {"datum": 0.97, "type": "quantitative", "scale": {"domain": [0, 1.3], "nice": false, "zero": false}, "axis": null}}},
   {"data": {"name": "events"}, "transform": [{"filter": "datum.p == '128k' && datum.e == 'dis'"}], "mark": {"type": "text", "text": "dis", "font": "Liberation Serif", "fontSize": 8.5, "align": "left", "baseline": "alphabetic", "dx": 3, "dy": 5},
    "encoding": {"x": {"field": "t", "type": "quantitative", "scale": {"domain": [-1.4, 30], "nice": false, "zero": false}, "axis": null}, "y": {"datum": 0.97, "type": "quantitative", "scale": {"domain": [0, 1.3], "nice": false, "zero": false}, "axis": null}}},
   {"data": {"name": "panels"}, "transform": [{"filter": "datum.p == '128k'"}], "mark": {"type": "text", "font": "Liberation Sans", "fontSize": 12.5, "align": "left", "baseline": "alphabetic"},
    "encoding": {"x": {"datum": 0.5, "type": "quantitative", "scale": {"domain": [-1.4, 30], "nice": false, "zero": false}, "axis": null}, "y": {"datum": 0.092, "type": "quantitative", "scale": {"domain": [0, 1.3], "nice": false, "zero": false}, "axis": null}, "text": {"field": "p"}}},
   {"data": {"name": "panels"}, "transform": [{"filter": "datum.p == '128k'"}], "mark": {"type": "text", "text": "N", "font": "Liberation Serif", "fontSize": 14, "align": "left", "baseline": "alphabetic"},
    "encoding": {"x": {"datum": 0, "type": "quantitative", "scale": {"domain": [-1.4, 30], "nice": false, "zero": false}, "axis": null}, "y": {"datum": 1.125, "type": "quantitative", "scale": {"domain": [0, 1.3], "nice": false, "zero": false}, "axis": null}}},
   {"data": {"name": "panels"}, "transform": [{"filter": "datum.p == '128k'"}], "mark": {"type": "text", "text": "rel", "font": "Liberation Serif", "fontSize": 9, "align": "left", "baseline": "alphabetic", "dx": 11},
    "encoding": {"x": {"datum": 0, "type": "quantitative", "scale": {"domain": [-1.4, 30], "nice": false, "zero": false}, "axis": null}, "y": {"datum": 1.103, "type": "quantitative", "scale": {"domain": [0, 1.3], "nice": false, "zero": false}, "axis": null}}}
  ]}
]
}
